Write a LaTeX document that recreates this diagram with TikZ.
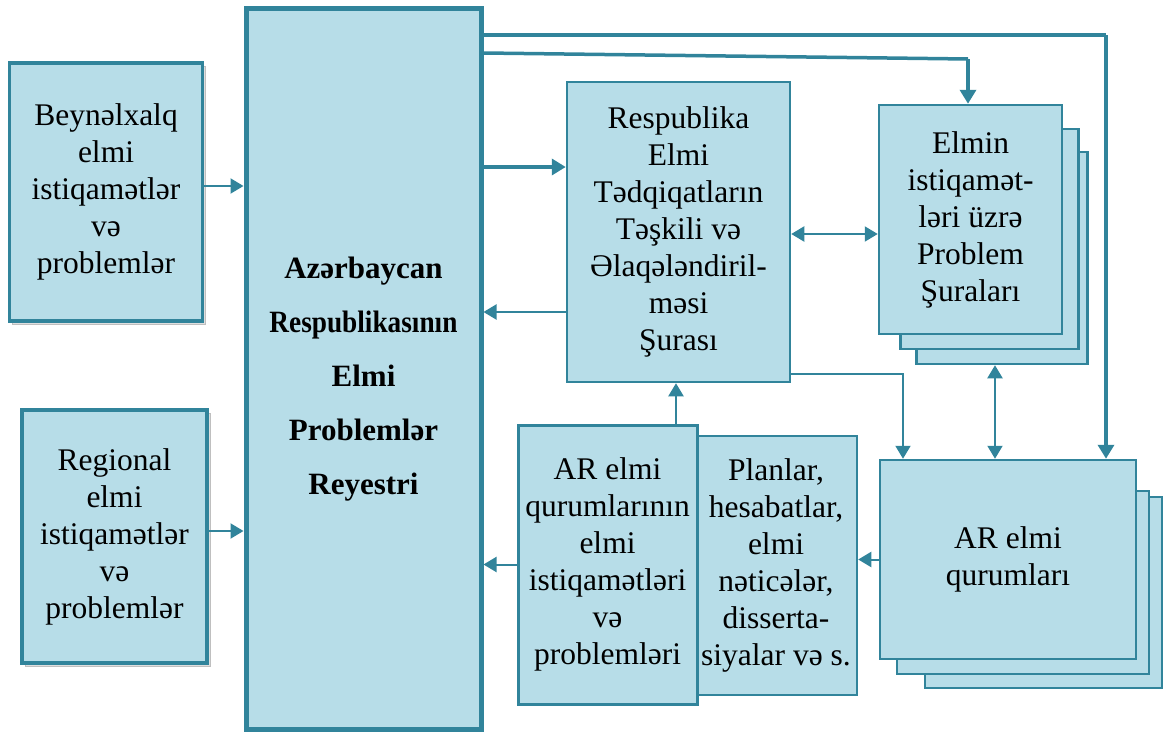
\documentclass[tikz,border=0pt]{standalone}
\usepackage{fontspec}
\setmainfont{Liberation Serif}
\usetikzlibrary{arrows.meta}
\definecolor{bord}{HTML}{31849B}
\definecolor{fillc}{HTML}{B7DDE8}
\begin{document}
\begin{tikzpicture}[x=1pt,y=-1pt,
  bx/.style={draw=bord,fill=fillc,inner sep=0pt,align=center,font=\fontsize{31.5}{37}\selectfont},
  shadowbox/.style={draw=gray!50,fill=gray!25,line width=1pt,inner sep=0pt},
  arr/.style={draw=bord,line width=2pt,-{Triangle[length=13pt,width=15pt]}},
  tarr/.style={draw=bord,line width=3.5pt,-{Triangle[length=14pt,width=16pt]}},
  darr/.style={draw=bord,line width=2pt,{Triangle[length=13pt,width=15pt]}-{Triangle[length=13pt,width=15pt]}},
  tline/.style={draw=bord,line width=3.5pt}
]
\useasboundingbox (0,0) rectangle (1168,736);

% shadows of left boxes
\node[shadowbox,minimum width=193pt,minimum height=258pt] (b1s) at (109,195) {};
\node[shadowbox,minimum width=185pt,minimum height=253pt] (b2s) at (117.5,539.5) {};

% left boxes
\node[bx,line width=3.5pt,minimum width=193pt,minimum height=258pt] (b1) at (106,192)
  {Beynəlxalq\\elmi\\istiqamətlər\\və\\problemlər};
\node[bx,line width=3.5pt,minimum width=185pt,minimum height=253pt] (b2) at (114.5,536.5)
  {Regional\\elmi\\istiqamətlər\\və\\problemlər};

% main register
\node[bx,line width=5pt,minimum width=235pt,minimum height=721pt,
  label={[font=\fontsize{31}{54}\selectfont\bfseries,align=center,yshift=-11pt]center:Azərbaycan\\\scalebox{0.88}[1]{Respublikasının}\\Elmi\\Problemlər\\Reyestri}]
  (main) at (363.5,368.5) {};

% council
\node[bx,line width=2.5pt,minimum width=223pt,minimum height=300pt] (rs) at (678.5,232)
  {Respublika\\Elmi\\Tədqiqatların\\Təşkili və\\Əlaqələndiril-\\məsi\\Şurası};

% problem councils (stack)
\node[bx,line width=2.5pt,minimum width=171pt,minimum height=212pt] (el3) at (1002,258) {};
\node[bx,line width=2.5pt,minimum width=178pt,minimum height=220pt] (el2) at (989.7,239) {};
\node[bx,line width=2.5pt,minimum width=183pt,minimum height=229pt] (el) at (970.5,219.5)
  {Elmin\\istiqamət-\\ləri üzrə\\Problem\\Şuraları};

% AR scientific bodies (stack)
\node[bx,line width=2.5pt,minimum width=237pt,minimum height=191pt] (ar3) at (1043.3,592.3) {};
\node[bx,line width=2.5pt,minimum width=252pt,minimum height=183pt] (ar2) at (1023,582.3) {};
\node[bx,line width=2.5pt,minimum width=256pt,minimum height=199pt] (ar) at (1008,559.5)
  {AR elmi\\qurumları};

% plans box and directions box
\node[bx,line width=2.5pt,minimum width=162pt,minimum height=259pt] (pl) at (776,565.5)
  {Planlar,\\hesabatlar,\\elmi\\nəticələr,\\disserta-\\siyalar və s.};
\node[bx,line width=3pt,minimum width=179pt,minimum height=279pt] (arq) at (607.5,564.5)
  {AR elmi\\qurumlarının\\elmi\\istiqamətləri\\və\\problemləri};

% helper coordinates
\coordinate (h1) at ([yshift=6pt]b1.east);
\coordinate (h2) at ([yshift=5.5pt]b2.east);
\coordinate (y35) at (0,35);
\coordinate (y53) at (0,53);
\coordinate (k968) at (968,59);
\coordinate (y167) at (0,167);
\coordinate (y312) at (0,312);
\coordinate (y234) at (0,234);
\coordinate (y374) at (0,374);
\coordinate (k903) at (903,374);
\coordinate (k1106) at (1106,35);
\coordinate (x995) at (995,0);
\coordinate (x676) at (676,0);

% connectors
\draw[arr] (h1) -- (h1 -| main.west);
\draw[arr] (h2) -- (h2 -| main.west);
\draw[tarr] (y167 -| main.east) -- (y167 -| rs.west);
\draw[arr] (y312 -| rs.west) -- (y312 -| main.east);
\draw[darr] (y234 -| rs.east) -- (y234 -| el.west);
\draw[tline] (y35 -| main.east) -- (k1106);
\draw[tarr] (k1106) -- (k1106 |- ar.north);
\draw[tline] (y53 -| main.east) -- (k968);
\draw[tarr] (k968) -- (k968 |- el.north);
\draw[arr] (y374 -| rs.east) -- (k903) -- (k903 |- ar.north);
\draw[darr] (x995 |- el3.south) -- (x995 |- ar.north);
\draw[arr] (ar.west) -- (ar.west -| pl.east);
\draw[arr] (arq.west) -- (arq.west -| main.east);
\draw[arr] (x676 |- arq.north) -- (x676 |- rs.south);
\end{tikzpicture}
\end{document}
